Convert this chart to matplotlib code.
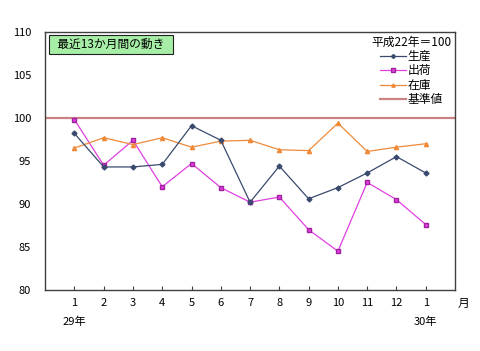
import matplotlib
matplotlib.use("Agg")
import matplotlib.pyplot as plt

plt.rcParams['font.family'] = ['Noto Sans CJK JP', 'DejaVu Sans']

# data
months = ["1", "2", "3", "4", "5", "6", "7", "8", "9", "10", "11", "12", "1"]
production = [98.2, 94.3, 94.3, 94.6, 99.1, 97.4, 90.2, 94.4, 90.6, 91.9, 93.6, 95.5, 93.6]
shipment = [99.8, 94.5, 97.4, 92.0, 94.7, 91.9, 90.2, 90.8, 87.0, 84.5, 92.5, 90.5, 87.6]
inventory = [96.5, 97.7, 96.9, 97.7, 96.6, 97.3, 97.4, 96.3, 96.2, 99.4, 96.1, 96.6, 97.0]
base_value = 100
yticks = [80, 85, 90, 95, 100, 105, 110]

x = list(range(1, len(months) + 1))

fig = plt.figure(figsize=(4.8, 3.51), dpi=100)
ax = fig.add_axes([0.094, 0.174, 0.854, 0.735])

base_line = ax.axhline(base_value, color="#c98383", lw=1.6, label="基準値", zorder=1)
l1, = ax.plot(x, production, color="#3a4a6e", lw=0.9, marker="D", ms=2.5, label="生産", zorder=3)
l2, = ax.plot(x, shipment, color="#e040e0", lw=0.9, marker="s", ms=2.8,
              mec="#a020a0", label="出荷", zorder=2)
l3, = ax.plot(x, inventory, color="#ee8a3a", lw=0.9, marker="^", ms=3, label="在庫", zorder=2)

ax.set_xlim(0, 14)
ax.set_ylim(80, 110)
ax.set_yticks(yticks)
ax.set_xticks(x)
ax.set_xticklabels(months)
ax.tick_params(axis="y", length=0, labelsize=8, pad=10)
ax.tick_params(axis="x", direction="in", length=3, labelsize=8, pad=6, color="#404040")
for s in ax.spines.values():
    s.set_color("#404040")
    s.set_linewidth(1.0)

ax.text(1, 76.3, "29年", ha="center", va="center", fontsize=8)
ax.text(13, 76.3, "30年", ha="center", va="center", fontsize=8)
ax.text(14.1, 78.4, "月", ha="left", va="center", fontsize=8.5)

ax.text(0.25, 108.5, "  最近13か月間の動き  ", ha="left", va="center", fontsize=8.5,
        bbox=dict(boxstyle="square,pad=0.25", fc="#a6eea6", ec="#202020", lw=0.8))

leg = ax.legend(handles=[l1, l2, l3, base_line], labels=["生産", "出荷", "在庫", "基準値"],
                title="平成22年＝100", loc="upper right", frameon=False, fontsize=8.5,
                title_fontsize=8.5, handlelength=2.2, handletextpad=0.1,
                labelspacing=0.12, borderaxespad=0.0, borderpad=0.3, markerscale=0.8)

fig.savefig("out.png", dpi=100)
